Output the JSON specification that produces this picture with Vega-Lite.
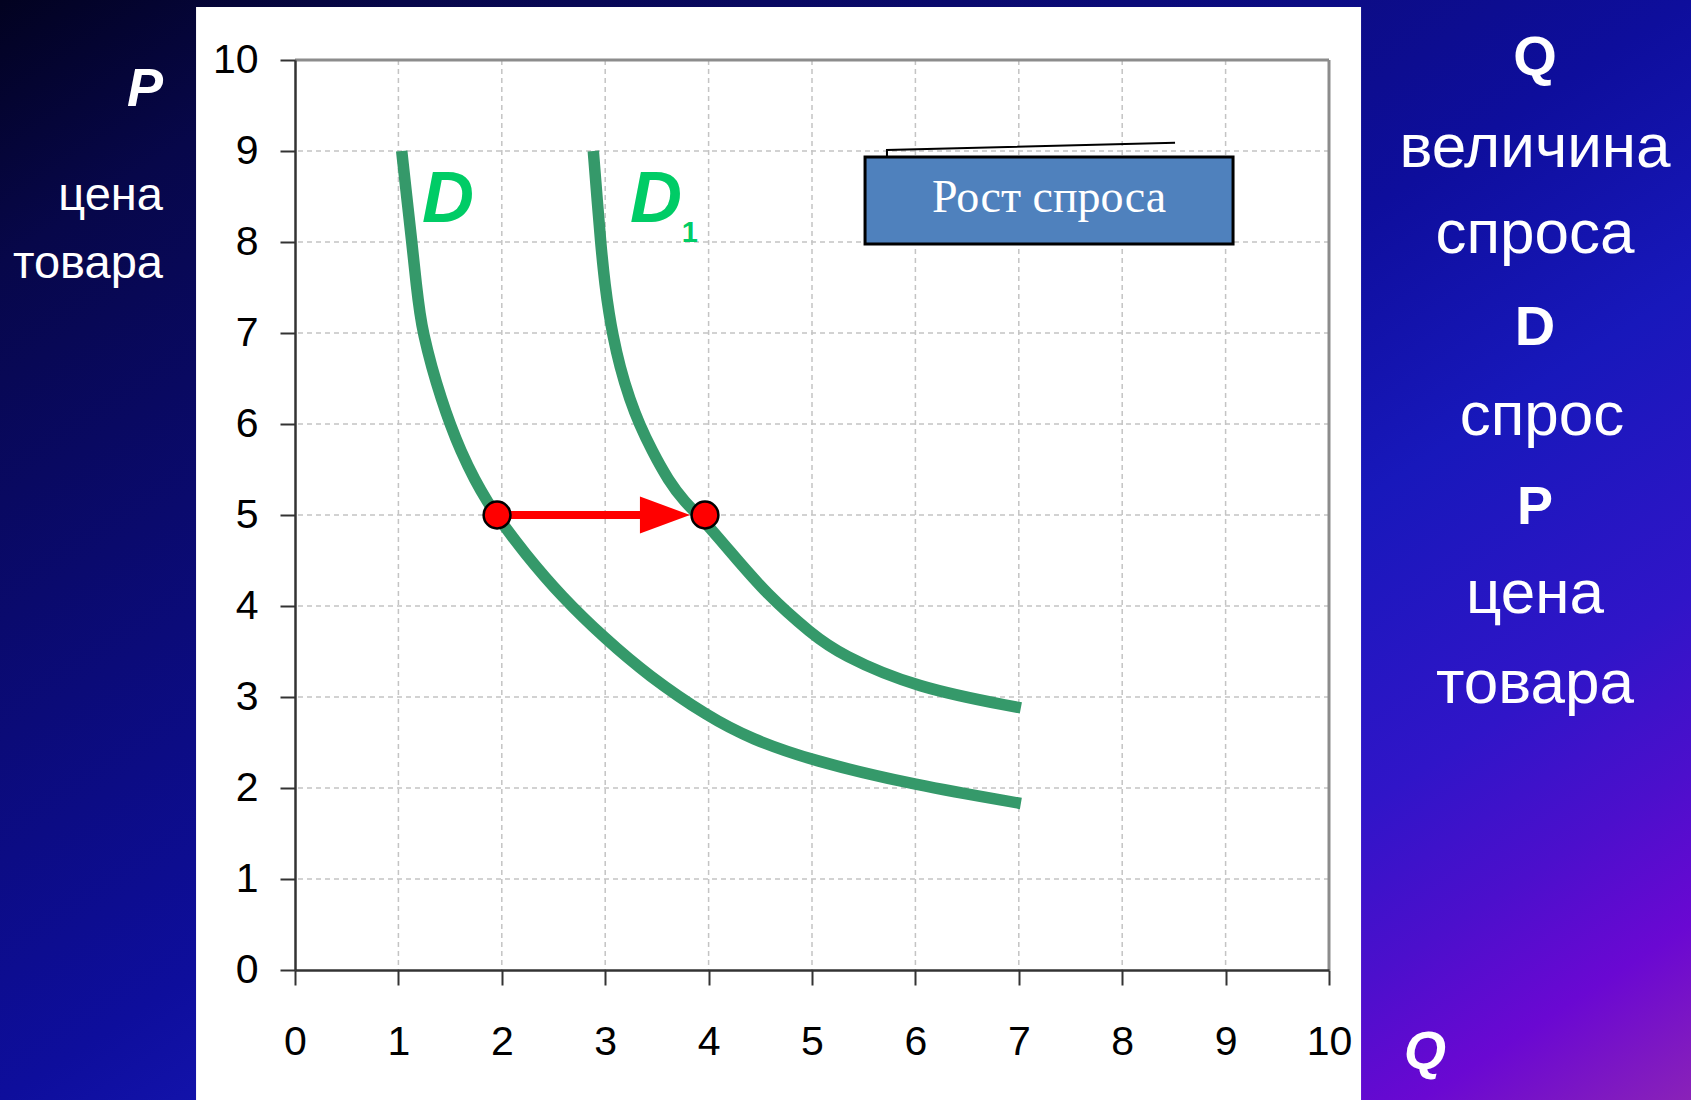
{
  "$schema": "https://vega.github.io/schema/vega-lite/v6.json",
  "width": 1034,
  "height": 910,
  "autosize": {"type": "none"},
  "padding": {"left": 295, "top": 60, "right": 362, "bottom": 130},
  "background": "#0e0e9c",
  "config": {
    "view": {"stroke": null},
    "text": {"font": "Liberation Sans"},
    "axis": {
      "grid": false,
      "domainColor": "#333333", "domainWidth": 2.5, "tickColor": "#333333", "tickWidth": 2, "tickSize": 15,
      "labelFont": "Liberation Sans", "labelFontSize": 41, "labelColor": "#000000",
      "labelFlush": false, "labelOverlap": false
    },
    "axisX": {"labelPadding": 37},
    "axisY": {"labelPadding": 22}
  },
  "datasets": {
    "curves": [
      {"curve": "D", "q": 1.032, "p": 9.0},
      {"curve": "D", "q": 1.08, "p": 8.5},
      {"curve": "D", "q": 1.13, "p": 8.0},
      {"curve": "D", "q": 1.175, "p": 7.5},
      {"curve": "D", "q": 1.21, "p": 7.2},
      {"curve": "D", "q": 1.24, "p": 7.0},
      {"curve": "D", "q": 1.32, "p": 6.63},
      {"curve": "D", "q": 1.42, "p": 6.26},
      {"curve": "D", "q": 1.5, "p": 6.0},
      {"curve": "D", "q": 1.6, "p": 5.71},
      {"curve": "D", "q": 1.74, "p": 5.38},
      {"curve": "D", "q": 1.87, "p": 5.13},
      {"curve": "D", "q": 1.95, "p": 4.99},
      {"curve": "D", "q": 2.22, "p": 4.58},
      {"curve": "D", "q": 2.58, "p": 4.1},
      {"curve": "D", "q": 3.0, "p": 3.64},
      {"curve": "D", "q": 3.41, "p": 3.24},
      {"curve": "D", "q": 4.0, "p": 2.78},
      {"curve": "D", "q": 4.41, "p": 2.54},
      {"curve": "D", "q": 5.0, "p": 2.3},
      {"curve": "D", "q": 6.0, "p": 2.03},
      {"curve": "D", "q": 7.02, "p": 1.83},
      {"curve": "D1", "q": 2.885, "p": 9.0},
      {"curve": "D1", "q": 2.92, "p": 8.5},
      {"curve": "D1", "q": 2.955, "p": 8.0},
      {"curve": "D1", "q": 3.0, "p": 7.5},
      {"curve": "D1", "q": 3.04, "p": 7.2},
      {"curve": "D1", "q": 3.07, "p": 7.0},
      {"curve": "D1", "q": 3.14, "p": 6.63},
      {"curve": "D1", "q": 3.24, "p": 6.26},
      {"curve": "D1", "q": 3.33, "p": 6.0},
      {"curve": "D1", "q": 3.45, "p": 5.71},
      {"curve": "D1", "q": 3.61, "p": 5.38},
      {"curve": "D1", "q": 3.77, "p": 5.14},
      {"curve": "D1", "q": 3.93, "p": 4.97},
      {"curve": "D1", "q": 4.2, "p": 4.61},
      {"curve": "D1", "q": 4.56, "p": 4.13},
      {"curve": "D1", "q": 5.0, "p": 3.69},
      {"curve": "D1", "q": 5.27, "p": 3.47},
      {"curve": "D1", "q": 6.0, "p": 3.1},
      {"curve": "D1", "q": 7.02, "p": 2.88}
    ],
    "dots": [
      {"q": 1.954, "p": 5.0},
      {"q": 3.965, "p": 5.0}
    ],
    "grid": [
      {"v": 1}, {"v": 2}, {"v": 3}, {"v": 4}, {"v": 5},
      {"v": 6}, {"v": 7}, {"v": 8}, {"v": 9}
    ],
    "callout": [
      {"o": 0, "q": 5.725, "p": 8.93},
      {"o": 1, "q": 5.725, "p": 9.01},
      {"o": 2, "q": 8.511, "p": 9.09}
    ],
    "one": [{}]
  },
  "layer": [
    {
      "data": {"name": "one"},
      "mark": {
        "type": "rect",
        "fill": {
          "gradient": "linear", "x1": 0, "y1": 0, "x2": 1, "y2": 1,
          "stops": [
            {"offset": 0, "color": "#020220"},
            {"offset": 0.12, "color": "#07074a"},
            {"offset": 0.5, "color": "#0e0e9c"},
            {"offset": 0.63, "color": "#1818bb"},
            {"offset": 0.77, "color": "#3015c8"},
            {"offset": 0.85, "color": "#4c0fcc"},
            {"offset": 0.92, "color": "#6a08d2"},
            {"offset": 1, "color": "#8a22b8"}
          ]
        }
      },
      "encoding": {
        "x": {"datum": -2.853, "type": "quantitative", "scale": {"domain": [0, 10], "nice": false, "zero": false}, "axis": {"title": null, "zindex": 1, "values": [0, 1, 2, 3, 4, 5, 6, 7, 8, 9, 10]}},
        "x2": {"datum": 13.501},
        "y": {"datum": 10.66, "type": "quantitative", "scale": {"domain": [0, 10], "nice": false, "zero": false}, "axis": {"title": null, "zindex": 1, "values": [0, 1, 2, 3, 4, 5, 6, 7, 8, 9, 10]}},
        "y2": {"datum": -1.43}
      }
    },
    {
      "data": {"name": "one"},
      "mark": {"type": "rect", "fill": "#ffffff"},
      "encoding": {
        "x": {"datum": -0.957, "type": "quantitative", "scale": {"domain": [0, 10], "nice": false, "zero": false}, "axis": {"title": null, "zindex": 1, "values": [0, 1, 2, 3, 4, 5, 6, 7, 8, 9, 10]}},
        "x2": {"datum": 10.31},
        "y": {"datum": 10.582, "type": "quantitative", "scale": {"domain": [0, 10], "nice": false, "zero": false}, "axis": {"title": null, "zindex": 1, "values": [0, 1, 2, 3, 4, 5, 6, 7, 8, 9, 10]}},
        "y2": {"datum": -1.6}
      }
    },
    {
      "data": {"name": "grid"},
      "mark": {"type": "rule", "color": "#c4c4c4", "strokeWidth": 1.5, "strokeDash": [5, 4]},
      "encoding": {
        "x": {"field": "v", "type": "quantitative", "scale": {"domain": [0, 10], "nice": false, "zero": false}, "axis": {"title": null, "zindex": 1, "values": [0, 1, 2, 3, 4, 5, 6, 7, 8, 9, 10]}}
      }
    },
    {
      "data": {"name": "grid"},
      "mark": {"type": "rule", "color": "#c4c4c4", "strokeWidth": 1.5, "strokeDash": [5, 4]},
      "encoding": {
        "y": {"field": "v", "type": "quantitative", "scale": {"domain": [0, 10], "nice": false, "zero": false}, "axis": {"title": null, "zindex": 1, "values": [0, 1, 2, 3, 4, 5, 6, 7, 8, 9, 10]}}
      }
    },
    {
      "data": {"name": "one"},
      "mark": {"type": "rule", "color": "#8c8c8c", "strokeWidth": 3},
      "encoding": {
        "y": {"datum": 10, "type": "quantitative", "scale": {"domain": [0, 10], "nice": false, "zero": false}, "axis": {"title": null, "zindex": 1, "values": [0, 1, 2, 3, 4, 5, 6, 7, 8, 9, 10]}}
      }
    },
    {
      "data": {"name": "one"},
      "mark": {"type": "rule", "color": "#8c8c8c", "strokeWidth": 3},
      "encoding": {
        "x": {"datum": 10, "type": "quantitative", "scale": {"domain": [0, 10], "nice": false, "zero": false}, "axis": {"title": null, "zindex": 1, "values": [0, 1, 2, 3, 4, 5, 6, 7, 8, 9, 10]}}
      }
    },
    {
      "data": {"name": "curves"},
      "mark": {"type": "line", "color": "#35996a", "strokeWidth": 11.5, "interpolate": "basis", "strokeCap": "butt"},
      "encoding": {
        "x": {"field": "q", "type": "quantitative", "scale": {"domain": [0, 10], "nice": false, "zero": false}, "axis": {"title": null, "zindex": 1, "values": [0, 1, 2, 3, 4, 5, 6, 7, 8, 9, 10]}},
        "y": {"field": "p", "type": "quantitative", "scale": {"domain": [0, 10], "nice": false, "zero": false}, "axis": {"title": null, "zindex": 1, "values": [0, 1, 2, 3, 4, 5, 6, 7, 8, 9, 10]}},
        "detail": {"field": "curve"}
      }
    },
    {
      "data": {"name": "callout"},
      "mark": {"type": "line", "color": "#000000", "strokeWidth": 2},
      "encoding": {
        "x": {"field": "q", "type": "quantitative", "scale": {"domain": [0, 10], "nice": false, "zero": false}, "axis": {"title": null, "zindex": 1, "values": [0, 1, 2, 3, 4, 5, 6, 7, 8, 9, 10]}},
        "y": {"field": "p", "type": "quantitative", "scale": {"domain": [0, 10], "nice": false, "zero": false}, "axis": {"title": null, "zindex": 1, "values": [0, 1, 2, 3, 4, 5, 6, 7, 8, 9, 10]}},
        "order": {"field": "o"}
      }
    },
    {
      "data": {"name": "one"},
      "mark": {"type": "rect", "fill": "#4f81bd", "stroke": "#000000", "strokeWidth": 3},
      "encoding": {
        "x": {"datum": 5.513, "type": "quantitative", "scale": {"domain": [0, 10], "nice": false, "zero": false}, "axis": {"title": null, "zindex": 1, "values": [0, 1, 2, 3, 4, 5, 6, 7, 8, 9, 10]}},
        "x2": {"datum": 9.072},
        "y": {"datum": 8.934, "type": "quantitative", "scale": {"domain": [0, 10], "nice": false, "zero": false}, "axis": {"title": null, "zindex": 1, "values": [0, 1, 2, 3, 4, 5, 6, 7, 8, 9, 10]}},
        "y2": {"datum": 7.978}
      }
    },
    {
      "data": {"name": "one"},
      "mark": {"type": "text", "text": "Рост спроса", "font": "Liberation Serif", "fontSize": 46, "color": "#ffffff", "align": "center", "baseline": "alphabetic"},
      "encoding": {
        "x": {"datum": 7.292, "type": "quantitative", "scale": {"domain": [0, 10], "nice": false, "zero": false}, "axis": {"title": null, "zindex": 1, "values": [0, 1, 2, 3, 4, 5, 6, 7, 8, 9, 10]}},
        "y": {"datum": 8.33, "type": "quantitative", "scale": {"domain": [0, 10], "nice": false, "zero": false}, "axis": {"title": null, "zindex": 1, "values": [0, 1, 2, 3, 4, 5, 6, 7, 8, 9, 10]}}
      }
    },
    {
      "data": {"name": "one"},
      "mark": {"type": "rule", "color": "#ff0000", "strokeWidth": 8},
      "encoding": {
        "x": {"datum": 2.0, "type": "quantitative", "scale": {"domain": [0, 10], "nice": false, "zero": false}, "axis": {"title": null, "zindex": 1, "values": [0, 1, 2, 3, 4, 5, 6, 7, 8, 9, 10]}},
        "x2": {"datum": 3.38},
        "y": {"datum": 5.0, "type": "quantitative", "scale": {"domain": [0, 10], "nice": false, "zero": false}, "axis": {"title": null, "zindex": 1, "values": [0, 1, 2, 3, 4, 5, 6, 7, 8, 9, 10]}}
      }
    },
    {
      "data": {"name": "one"},
      "mark": {"type": "point", "shape": "M -1 -0.74 L 1 0 L -1 0.74 Z", "filled": true, "color": "#ff0000", "opacity": 1, "size": 2500, "strokeWidth": 0},
      "encoding": {
        "x": {"datum": 3.578, "type": "quantitative", "scale": {"domain": [0, 10], "nice": false, "zero": false}, "axis": {"title": null, "zindex": 1, "values": [0, 1, 2, 3, 4, 5, 6, 7, 8, 9, 10]}},
        "y": {"datum": 5.0, "type": "quantitative", "scale": {"domain": [0, 10], "nice": false, "zero": false}, "axis": {"title": null, "zindex": 1, "values": [0, 1, 2, 3, 4, 5, 6, 7, 8, 9, 10]}}
      }
    },
    {
      "data": {"name": "dots"},
      "mark": {"type": "circle", "fill": "#ff0000", "stroke": "#000000", "strokeWidth": 2.5, "size": 720, "opacity": 1},
      "encoding": {
        "x": {"field": "q", "type": "quantitative", "scale": {"domain": [0, 10], "nice": false, "zero": false}, "axis": {"title": null, "zindex": 1, "values": [0, 1, 2, 3, 4, 5, 6, 7, 8, 9, 10]}},
        "y": {"field": "p", "type": "quantitative", "scale": {"domain": [0, 10], "nice": false, "zero": false}, "axis": {"title": null, "zindex": 1, "values": [0, 1, 2, 3, 4, 5, 6, 7, 8, 9, 10]}}
      }
    },
    {
      "data": {"name": "one"},
      "mark": {"type": "text", "text": "D", "fontSize": 72, "fontWeight": "bold", "fontStyle": "italic", "color": "#00cc66", "align": "left", "baseline": "alphabetic"},
      "encoding": {
        "x": {"datum": 1.228, "type": "quantitative", "scale": {"domain": [0, 10], "nice": false, "zero": false}, "axis": {"title": null, "zindex": 1, "values": [0, 1, 2, 3, 4, 5, 6, 7, 8, 9, 10]}},
        "y": {"datum": 8.22, "type": "quantitative", "scale": {"domain": [0, 10], "nice": false, "zero": false}, "axis": {"title": null, "zindex": 1, "values": [0, 1, 2, 3, 4, 5, 6, 7, 8, 9, 10]}}
      }
    },
    {
      "data": {"name": "one"},
      "mark": {"type": "text", "text": "D", "fontSize": 72, "fontWeight": "bold", "fontStyle": "italic", "color": "#00cc66", "align": "left", "baseline": "alphabetic"},
      "encoding": {
        "x": {"datum": 3.24, "type": "quantitative", "scale": {"domain": [0, 10], "nice": false, "zero": false}, "axis": {"title": null, "zindex": 1, "values": [0, 1, 2, 3, 4, 5, 6, 7, 8, 9, 10]}},
        "y": {"datum": 8.22, "type": "quantitative", "scale": {"domain": [0, 10], "nice": false, "zero": false}, "axis": {"title": null, "zindex": 1, "values": [0, 1, 2, 3, 4, 5, 6, 7, 8, 9, 10]}}
      }
    },
    {
      "data": {"name": "one"},
      "mark": {"type": "text", "text": "1", "fontSize": 29, "fontWeight": "bold", "color": "#00cc66", "align": "left", "baseline": "alphabetic"},
      "encoding": {
        "x": {"datum": 3.74, "type": "quantitative", "scale": {"domain": [0, 10], "nice": false, "zero": false}, "axis": {"title": null, "zindex": 1, "values": [0, 1, 2, 3, 4, 5, 6, 7, 8, 9, 10]}},
        "y": {"datum": 8.0, "type": "quantitative", "scale": {"domain": [0, 10], "nice": false, "zero": false}, "axis": {"title": null, "zindex": 1, "values": [0, 1, 2, 3, 4, 5, 6, 7, 8, 9, 10]}}
      }
    },
    {
      "data": {"name": "one"},
      "mark": {"type": "text", "text": "P", "fontSize": 54, "fontWeight": "bold", "fontStyle": "italic", "color": "#ffffff", "align": "right", "baseline": "alphabetic"},
      "encoding": {
        "x": {"datum": -1.277, "type": "quantitative", "scale": {"domain": [0, 10], "nice": false, "zero": false}, "axis": {"title": null, "zindex": 1, "values": [0, 1, 2, 3, 4, 5, 6, 7, 8, 9, 10]}},
        "y": {"datum": 9.495, "type": "quantitative", "scale": {"domain": [0, 10], "nice": false, "zero": false}, "axis": {"title": null, "zindex": 1, "values": [0, 1, 2, 3, 4, 5, 6, 7, 8, 9, 10]}}
      }
    },
    {
      "data": {"name": "one"},
      "mark": {"type": "text", "text": "цена", "fontSize": 47, "color": "#ffffff", "align": "right", "baseline": "alphabetic"},
      "encoding": {
        "x": {"datum": -1.277, "type": "quantitative", "scale": {"domain": [0, 10], "nice": false, "zero": false}, "axis": {"title": null, "zindex": 1, "values": [0, 1, 2, 3, 4, 5, 6, 7, 8, 9, 10]}},
        "y": {"datum": 8.352, "type": "quantitative", "scale": {"domain": [0, 10], "nice": false, "zero": false}, "axis": {"title": null, "zindex": 1, "values": [0, 1, 2, 3, 4, 5, 6, 7, 8, 9, 10]}}
      }
    },
    {
      "data": {"name": "one"},
      "mark": {"type": "text", "text": "товара", "fontSize": 47, "color": "#ffffff", "align": "right", "baseline": "alphabetic"},
      "encoding": {
        "x": {"datum": -1.277, "type": "quantitative", "scale": {"domain": [0, 10], "nice": false, "zero": false}, "axis": {"title": null, "zindex": 1, "values": [0, 1, 2, 3, 4, 5, 6, 7, 8, 9, 10]}},
        "y": {"datum": 7.604, "type": "quantitative", "scale": {"domain": [0, 10], "nice": false, "zero": false}, "axis": {"title": null, "zindex": 1, "values": [0, 1, 2, 3, 4, 5, 6, 7, 8, 9, 10]}}
      }
    },
    {
      "data": {"name": "one"},
      "mark": {"type": "text", "text": "Q", "fontSize": 56, "fontWeight": "bold", "color": "#ffffff", "align": "center", "baseline": "alphabetic"},
      "encoding": {
        "x": {"datum": 11.992, "type": "quantitative", "scale": {"domain": [0, 10], "nice": false, "zero": false}, "axis": {"title": null, "zindex": 1, "values": [0, 1, 2, 3, 4, 5, 6, 7, 8, 9, 10]}},
        "y": {"datum": 9.835, "type": "quantitative", "scale": {"domain": [0, 10], "nice": false, "zero": false}, "axis": {"title": null, "zindex": 1, "values": [0, 1, 2, 3, 4, 5, 6, 7, 8, 9, 10]}}
      }
    },
    {
      "data": {"name": "one"},
      "mark": {"type": "text", "text": "величина", "fontSize": 62, "color": "#ffffff", "align": "center", "baseline": "alphabetic"},
      "encoding": {
        "x": {"datum": 11.992, "type": "quantitative", "scale": {"domain": [0, 10], "nice": false, "zero": false}, "axis": {"title": null, "zindex": 1, "values": [0, 1, 2, 3, 4, 5, 6, 7, 8, 9, 10]}},
        "y": {"datum": 8.824, "type": "quantitative", "scale": {"domain": [0, 10], "nice": false, "zero": false}, "axis": {"title": null, "zindex": 1, "values": [0, 1, 2, 3, 4, 5, 6, 7, 8, 9, 10]}}
      }
    },
    {
      "data": {"name": "one"},
      "mark": {"type": "text", "text": "спроса", "fontSize": 62, "color": "#ffffff", "align": "center", "baseline": "alphabetic"},
      "encoding": {
        "x": {"datum": 11.992, "type": "quantitative", "scale": {"domain": [0, 10], "nice": false, "zero": false}, "axis": {"title": null, "zindex": 1, "values": [0, 1, 2, 3, 4, 5, 6, 7, 8, 9, 10]}},
        "y": {"datum": 7.879, "type": "quantitative", "scale": {"domain": [0, 10], "nice": false, "zero": false}, "axis": {"title": null, "zindex": 1, "values": [0, 1, 2, 3, 4, 5, 6, 7, 8, 9, 10]}}
      }
    },
    {
      "data": {"name": "one"},
      "mark": {"type": "text", "text": "D", "fontSize": 56, "fontWeight": "bold", "color": "#ffffff", "align": "center", "baseline": "alphabetic"},
      "encoding": {
        "x": {"datum": 11.992, "type": "quantitative", "scale": {"domain": [0, 10], "nice": false, "zero": false}, "axis": {"title": null, "zindex": 1, "values": [0, 1, 2, 3, 4, 5, 6, 7, 8, 9, 10]}},
        "y": {"datum": 6.868, "type": "quantitative", "scale": {"domain": [0, 10], "nice": false, "zero": false}, "axis": {"title": null, "zindex": 1, "values": [0, 1, 2, 3, 4, 5, 6, 7, 8, 9, 10]}}
      }
    },
    {
      "data": {"name": "one"},
      "mark": {"type": "text", "text": "спрос", "fontSize": 62, "color": "#ffffff", "align": "center", "baseline": "alphabetic"},
      "encoding": {
        "x": {"datum": 12.06, "type": "quantitative", "scale": {"domain": [0, 10], "nice": false, "zero": false}, "axis": {"title": null, "zindex": 1, "values": [0, 1, 2, 3, 4, 5, 6, 7, 8, 9, 10]}},
        "y": {"datum": 5.879, "type": "quantitative", "scale": {"domain": [0, 10], "nice": false, "zero": false}, "axis": {"title": null, "zindex": 1, "values": [0, 1, 2, 3, 4, 5, 6, 7, 8, 9, 10]}}
      }
    },
    {
      "data": {"name": "one"},
      "mark": {"type": "text", "text": "P", "fontSize": 54, "fontWeight": "bold", "color": "#ffffff", "align": "center", "baseline": "alphabetic"},
      "encoding": {
        "x": {"datum": 11.992, "type": "quantitative", "scale": {"domain": [0, 10], "nice": false, "zero": false}, "axis": {"title": null, "zindex": 1, "values": [0, 1, 2, 3, 4, 5, 6, 7, 8, 9, 10]}},
        "y": {"datum": 4.901, "type": "quantitative", "scale": {"domain": [0, 10], "nice": false, "zero": false}, "axis": {"title": null, "zindex": 1, "values": [0, 1, 2, 3, 4, 5, 6, 7, 8, 9, 10]}}
      }
    },
    {
      "data": {"name": "one"},
      "mark": {"type": "text", "text": "цена", "fontSize": 62, "color": "#ffffff", "align": "center", "baseline": "alphabetic"},
      "encoding": {
        "x": {"datum": 11.992, "type": "quantitative", "scale": {"domain": [0, 10], "nice": false, "zero": false}, "axis": {"title": null, "zindex": 1, "values": [0, 1, 2, 3, 4, 5, 6, 7, 8, 9, 10]}},
        "y": {"datum": 3.923, "type": "quantitative", "scale": {"domain": [0, 10], "nice": false, "zero": false}, "axis": {"title": null, "zindex": 1, "values": [0, 1, 2, 3, 4, 5, 6, 7, 8, 9, 10]}}
      }
    },
    {
      "data": {"name": "one"},
      "mark": {"type": "text", "text": "товара", "fontSize": 62, "color": "#ffffff", "align": "center", "baseline": "alphabetic"},
      "encoding": {
        "x": {"datum": 11.992, "type": "quantitative", "scale": {"domain": [0, 10], "nice": false, "zero": false}, "axis": {"title": null, "zindex": 1, "values": [0, 1, 2, 3, 4, 5, 6, 7, 8, 9, 10]}},
        "y": {"datum": 2.934, "type": "quantitative", "scale": {"domain": [0, 10], "nice": false, "zero": false}, "axis": {"title": null, "zindex": 1, "values": [0, 1, 2, 3, 4, 5, 6, 7, 8, 9, 10]}}
      }
    },
    {
      "data": {"name": "one"},
      "mark": {"type": "text", "text": "Q", "fontSize": 54, "fontWeight": "bold", "fontStyle": "italic", "color": "#ffffff", "align": "center", "baseline": "alphabetic"},
      "encoding": {
        "x": {"datum": 10.928, "type": "quantitative", "scale": {"domain": [0, 10], "nice": false, "zero": false}, "axis": {"title": null, "zindex": 1, "values": [0, 1, 2, 3, 4, 5, 6, 7, 8, 9, 10]}},
        "y": {"datum": -1.088, "type": "quantitative", "scale": {"domain": [0, 10], "nice": false, "zero": false}, "axis": {"title": null, "zindex": 1, "values": [0, 1, 2, 3, 4, 5, 6, 7, 8, 9, 10]}}
      }
    }
  ]
}
